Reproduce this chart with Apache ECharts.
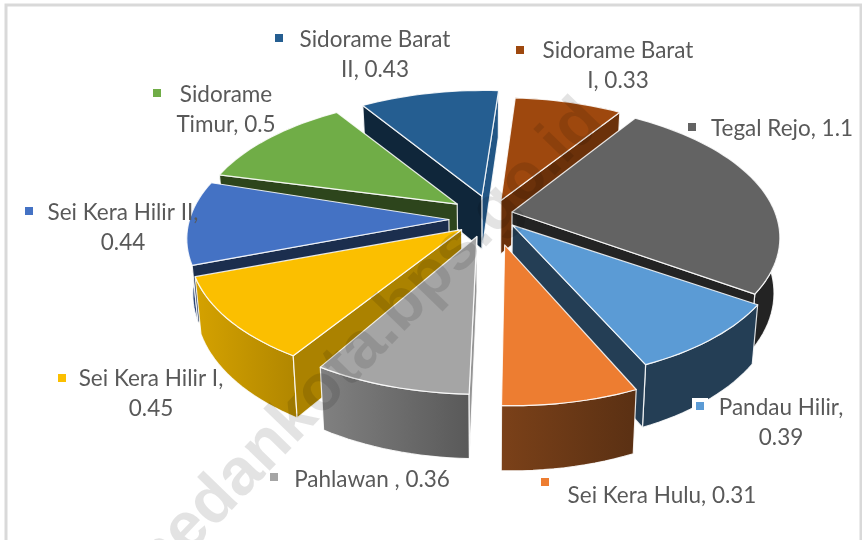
<!DOCTYPE html>
<html>
<head>
<meta charset="utf-8">
<style>html,body{margin:0;background:#fff}#myCharts{width:862px;height:540px}</style>
<script src="https://cdn.jsdelivr.net/npm/echarts@6/dist/echarts.min.js"></script>
</head>
<body>
<div id="myCharts"></div>
<script type="text/javascript">
// data, in sheet order (first slice starts at firstAngle, clockwise)
var categories = ['Pandau Hilir', 'Sei Kera Hulu', 'Pahlawan ', 'Sei Kera Hilir I', 'Sei Kera Hilir II', 'Sidorame Timur', 'Sidorame Barat II', 'Sidorame Barat I', 'Tegal Rejo'];
var values = [0.39, 0.31, 0.36, 0.45, 0.44, 0.5, 0.43, 0.33, 1.1];
var labelBreaks = ['0.39', '', '', '0.45', '0.44', 'Timur', 'II', 'I,', ''];

// styles
var colors = ['#5b9bd5', '#ed7d31', '#a5a5a5', '#fbbf00', '#4472c4', '#70ad47', '#255e91', '#9e480e', '#636363'];
// brightness of the outer wall, [left, right]
var wallShade = [[0.4, 0.4], [0.52, 0.38], [0.78, 0.54], [0.85, 0.7], [0.6, 0.6], [0.5, 0.5], [0.4, 0.4], [0.4, 0.4], [0.35, 0.35]];
// brightness of the cut faces, [start, end]
var cutShade = [[0.4, 0.4], [0.4, 0.4], [0.9, 0.5], [0.68, 0.5], [0.4, 0.4], [0.4, 0.4], [0.4, 0.92], [0.68, 0.68], [0.35, 0.35]];
// how far each slice is pulled out, in the plane of the pie [right, back]
var explode = [[31, -22], [20, -58], [-7, -42], [-32, -25], [-38, -5], [-32, 12], [-4, 30], [15, 11], [31, -4]];
// small correction of each slice's inner tip, screen px
var apexShift = [[-6, -1], [-3, 0], [-3, 0], [7, 2], [0, 2], [2, -5], [-1, -4], [-1, -9], [-6, -5]];
// marker x, marker y, text centre x, first line y
var labelLayout = [
    [700, 406, 781, 407],
    [545, 482, 662, 495],
    [274, 477, 372, 479],
    [62, 378, 151, 378],
    [29, 211, 123, 212],
    [157, 93, 226, 94],
    [279, 38, 375, 39],
    [520, 50, 618, 50],
    [692, 127, 782, 128]
];

var firstAngle = 123.3;
var R = 258, CX = 487, CY = 215, TILT = 0.5, PERSP = 0.14, DEPTH = 54;

var total = values.reduce(function (a, b) { return a + b; }, 0);
var slices = [];
var acc = firstAngle;
values.forEach(function (v, i) {
    var a0 = acc, a1 = acc + v / total * 360;
    slices.push({ i: i, a0: a0, a1: a1, mid: (a0 + a1) / 2 });
    acc = a1;
});
// back to front
var drawOrder = slices.slice().sort(function (p, q) {
    return Math.cos(q.mid * Math.PI / 180) - Math.cos(p.mid * Math.PI / 180);
});

function project(s, deg, r, down) {
    var t = deg * Math.PI / 180;
    var x = r * Math.sin(t) + explode[s.i][0];
    var y = r * Math.cos(t) + explode[s.i][1];
    var f = 1 / (1 + PERSP * y / R);
    var px = x * f, py = -y * TILT * f;
    if (down) {
        px *= 0.98;
        py += DEPTH * f;
    }
    return [CX + px, CY + py];
}

function arcPoints(s, down) {
    var pts = [];
    var n = Math.ceil((s.a1 - s.a0) / 2);
    for (var j = 0; j <= n; j++) {
        pts.push(project(s, s.a0 + (s.a1 - s.a0) * j / n, R, down));
    }
    return pts;
}

function shade(hex, f) {
    var n = parseInt(hex.slice(1), 16);
    return 'rgb(' + Math.round((n >> 16) * f) + ',' + Math.round(((n >> 8) & 255) * f) + ',' + Math.round((n & 255) * f) + ')';
}

function area(pts) {
    var a = 0;
    pts.forEach(function (p, j) {
        var q = pts[(j + 1) % pts.length];
        a += p[0] * q[1] - q[0] * p[1];
    });
    return a;
}

function poly(pts, fill) {
    return {
        type: 'polygon',
        shape: { points: pts },
        style: { fill: fill, stroke: 'rgba(255,255,255,0.85)', lineWidth: 1.2, lineJoin: 'round' }
    };
}

function renderSlice(params, api) {
    var s = drawOrder[api.value(0)];
    var c = colors[s.i];
    var kids = [];
    var top = arcPoints(s, false), bottom = arcPoints(s, true);
    var apex = project(s, 0, 0, false), apexDown = project(s, 0, 0, true);
    var shift = apexShift[s.i];
    apex = [apex[0] + shift[0], apex[1] + shift[1]];
    apexDown = [apexDown[0] + shift[0], apexDown[1] + shift[1]];
    // outer wall
    kids.push(poly(top.concat(bottom.slice().reverse()), new echarts.graphic.LinearGradient(0, 0, 1, 0, [
        { offset: 0, color: shade(c, wallShade[s.i][0]) },
        { offset: 1, color: shade(c, wallShade[s.i][1]) }
    ])));
    // cut faces, only those turned to the viewer
    var cut0 = [apex, top[0], bottom[0], apexDown];
    var cut1 = [apexDown, bottom[bottom.length - 1], top[top.length - 1], apex];
    if (area(cut0) < 0) kids.push(poly(cut0, shade(c, cutShade[s.i][0])));
    if (area(cut1) < 0) kids.push(poly(cut1, shade(c, cutShade[s.i][1])));
    kids.push(poly([apex].concat(top), c));
    return { type: 'group', children: kids };
}

var graphics = [{
    type: 'rect',
    shape: { x: 6, y: 5, width: 855, height: 560 },
    style: { fill: 'none', stroke: '#d9d9d9', lineWidth: 3 },
    z: 0
}];

categories.forEach(function (name, i) {
    var lay = labelLayout[i];
    var text = name + ', ' + values[i];
    if (labelBreaks[i]) {
        text = text.replace(' ' + labelBreaks[i], '\n' + labelBreaks[i]);
    }
    graphics.push({
        type: 'rect',
        shape: { x: lay[0] - 4, y: lay[1] - 4, width: 8, height: 8 },
        style: { fill: colors[i], stroke: '#fff', lineWidth: 8 },
        z: 10
    });
    graphics.push({
        type: 'rect',
        shape: { x: lay[0] - 4, y: lay[1] - 4, width: 8, height: 8 },
        style: { fill: colors[i] },
        z: 10
    });
    graphics.push({
        type: 'text',
        x: lay[2],
        y: lay[3] - 15,
        style: {
            text: text,
            fill: '#595959',
            font: '22.5px Lato, sans-serif',
            lineHeight: 30.5,
            align: 'center',
            verticalAlign: 'top'
        },
        z: 10
    });
});

// site watermark
graphics.push({
    type: 'text',
    x: 363,
    y: 348,
    rotation: 46 * Math.PI / 180,
    style: {
        text: 'medankota.bps.go.id',
        fill: 'rgba(0,0,0,0.11)',
        font: 'bold 66px "Liberation Sans", sans-serif',
        align: 'center',
        verticalAlign: 'middle'
    },
    z: 20
});

var myCharts = echarts.init(document.getElementById('myCharts'));
var option = {
    animation: false,
    backgroundColor: '#fff',
    graphic: graphics,
    series: [{
        type: 'custom',
        coordinateSystem: 'none',
        silent: true,
        renderItem: renderSlice,
        data: drawOrder.map(function (s, k) { return [k]; }),
        z: 5
    }]
};
myCharts.setOption(option);
</script>
</body>
</html>
